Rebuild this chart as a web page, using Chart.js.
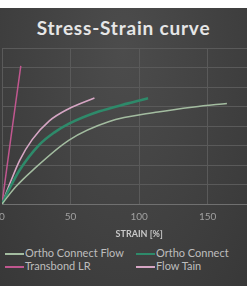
<!DOCTYPE html>
<html>
<head>
<meta charset="utf-8">
<script src="https://cdn.jsdelivr.net/npm/chart.js"></script>
<style>
  html, body { margin: 0; padding: 0; background: #fff; }
  body { width: 247px; height: 296px; position: relative; overflow: hidden; font-family: Lato, "Open Sans", sans-serif; }
  #panel {
    position: absolute; left: 0; top: 8px; width: 247px; height: 278px;
    background: radial-gradient(ellipse at 50% 15%, #4c4c4c 0%, #414141 55%, #383838 100%);
  }
  #title {
    position: absolute; left: 0; top: 16px; width: 247px; text-align: center;
    color: #e6e6e6; font-weight: bold; font-size: 19px; letter-spacing: 0.8px;
  }
  #wrap { position: absolute; left: -28px; top: 0; width: 320px; height: 240px; }
  #legend {
    position: absolute; left: 5px; top: 246px; width: 242px;
    color: #bdbdbd; font-size: 11px; line-height: 13px;
  }
  .item { position: absolute; white-space: nowrap; }
  .item span { display: inline-block; width: 19px; height: 2px; vertical-align: middle; margin-right: 1px; }
</style>
</head>
<body>
<div id="panel"></div>
<div id="title">Stress-Strain curve</div>
<div id="wrap"><canvas id="c"></canvas></div>
<div id="legend"></div>
<script>
// strain [%] / stress values
const seriesNames = ["Ortho Connect Flow", "Ortho Connect", "Transbond LR", "Flow Tain"];
const seriesColors = ["#a3bca0", "#2e8a6a", "#c0578f", "#d6a6c4"];
const seriesWidths = [1.5, 2.6, 1.5, 1.6];

const strainOCF = [0, 10, 22.5, 48.9, 77.7, 113.7, 140, 164];
const stressOCF = [0, 4.4, 8.7, 16.4, 21.1, 23.6, 24.9, 25.8];

const strainOC = [0, 5.8, 12.9, 27.3, 38, 48.9, 70.5, 92, 106.5];
const stressOC = [0, 4.2, 8.7, 15.2, 18.3, 20.6, 23.7, 25.8, 27.1];

const strainTLR = [0, 6.5, 13.7];
const stressTLR = [0, 17, 35.4];

const strainFT = [0, 5.8, 12.9, 22, 34.5, 48, 67.4];
const stressFT = [0, 5.3, 11.2, 16.5, 21.3, 24.3, 27.2];

const xTicks = [0, 50, 100, 150, 200];

const strains = [strainOCF, strainOC, strainTLR, strainFT];
const stresses = [stressOCF, stressOC, stressTLR, stressFT];

const datasets = seriesNames.map((name, i) => ({
    label: name,
    data: strains[i].map((x, j) => ({ x: x, y: stresses[i][j] })),
    borderColor: seriesColors[i],
    borderWidth: seriesWidths[i],
    pointRadius: 0,
    fill: false,
    cubicInterpolationMode: 'monotone',
}));

new Chart(document.getElementById('c'), {
    type: 'line',
    data: { datasets: datasets },
    options: {
        responsive: true,
        maintainAspectRatio: false,
        animation: false,
        layout: { padding: { left: 30, right: 12, top: 48, bottom: 1 } },
        scales: {
            x: {
                type: 'linear',
                min: 0,
                max: 200,
                afterBuildTicks: (scale) => { scale.ticks = xTicks.map(v => ({ value: v })); },
                afterFit: (scale) => { scale.height = 35; },
                grid: { color: '#5a5a5a', drawTicks: false },
                border: { color: '#707070' },
                ticks: { color: '#a0a0a0', padding: 7, font: { family: 'Lato', size: 10 } },
                title: {
                    display: true,
                    text: 'STRAIN [%]',
                    color: '#c8c8c8',
                    padding: 0,
                    font: { family: 'Lato', size: 9, weight: 'bold' }
                }
            },
            y: {
                min: 0,
                max: 40,
                ticks: { display: false, stepSize: 5 },
                grid: { color: '#5a5a5a', drawTicks: false },
                border: { display: false }
            }
        },
        plugins: {
            legend: { display: false },
            tooltip: { enabled: false }
        }
    }
});

// two-column legend as in the original slide
const legend = document.getElementById('legend');
const pos = [[0, 0], [131, 0], [0, 13], [131, 13]];
seriesNames.forEach((name, i) => {
    const d = document.createElement('div');
    d.className = 'item';
    d.style.left = pos[i][0] + 'px';
    d.style.top = pos[i][1] + 'px';
    d.innerHTML = '<span style="background:' + seriesColors[i] + '"></span>' + name;
    legend.appendChild(d);
});
</script>
</body>
</html>
